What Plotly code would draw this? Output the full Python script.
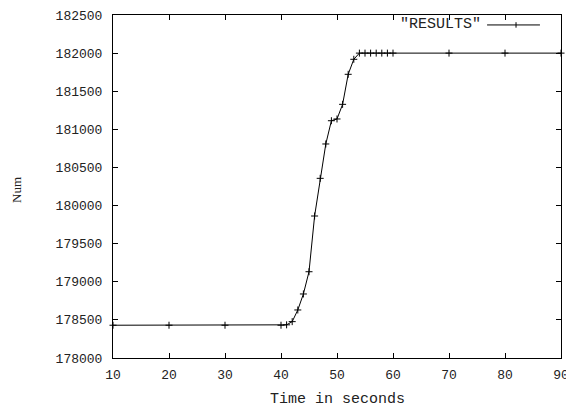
import plotly.graph_objects as go

# Data
time_s = [10, 20, 30, 40, 41, 42, 43, 44, 45, 46, 47, 48, 49, 50, 51, 52, 53,
          54, 55, 56, 57, 58, 59, 60, 70, 80, 90]
num = [178430, 178430, 178430, 178430, 178435, 178477, 178630, 178840, 179132,
       179863, 180357, 180808, 181113, 181136, 181328, 181722, 181919,
       182000, 182000, 182000, 182000, 182000, 182000, 182000, 182000, 182000, 182000]
series_name = '"RESULTS"'
x_ticks = [10, 20, 30, 40, 50, 60, 70, 80, 90]
y_ticks = [178000, 178500, 179000, 179500, 180000, 180500, 181000, 181500, 182000, 182500]

mono = "Liberation Mono"

fig = go.Figure()
fig.add_trace(go.Scatter(
    x=time_s, y=num, mode="lines+markers", name=series_name,
    line=dict(color="black", width=1),
    marker=dict(symbol="cross-thin-open", size=5, color="black",
                line=dict(color="black", width=1)),
    showlegend=False, cliponaxis=False,
))

axis_common = dict(
    showline=True, linecolor="black", linewidth=1, mirror="ticks",
    ticks="inside", ticklen=5, tickcolor="black", tickwidth=1,
    showgrid=False, zeroline=False, automargin=False,
    tickfont=dict(family=mono, size=13, color="#222"),
)

fig.update_xaxes(range=[10, 90], tickvals=x_ticks, ticktext=[str(v) for v in x_ticks],
                 ticklabelstandoff=4, **axis_common)
fig.update_yaxes(range=[178000, 182500], tickvals=y_ticks, ticktext=[str(v) for v in y_ticks],
                 ticklabelstandoff=7, **axis_common)

# axis titles
fig.add_annotation(xref="paper", yref="paper", x=0.5, y=-0.1224, text="Time in seconds",
                   showarrow=False, xanchor="center", yanchor="middle",
                   font=dict(family=mono, size=15, color="#222"))
fig.add_annotation(xref="paper", yref="paper", x=-0.2143, y=0.4898, text="Num",
                   showarrow=False, xanchor="center", yanchor="middle", textangle=-90,
                   font=dict(family="Liberation Serif", size=13, color="#222"))

# gnuplot-style key: text left, sample line with marker on the right
kx0, kx1, kxm, ky = 0.835, 0.953, 0.8996, 0.971
fig.add_shape(type="line", xref="paper", yref="paper", x0=kx0, x1=kx1, y0=ky, y1=ky,
              line=dict(color="black", width=1))
fig.add_shape(type="line", xref="paper", yref="paper", x0=kxm, x1=kxm,
              y0=ky - 0.008, y1=ky + 0.008, line=dict(color="black", width=1))
fig.add_annotation(xref="paper", yref="paper", x=0.826, y=ky, text=series_name,
                   showarrow=False, xanchor="right", yanchor="middle",
                   font=dict(family=mono, size=15, color="#222"))

# The page body adds an 8px offset, so the figure is sized to fill the rest
fig.update_layout(
    width=566, height=404,
    margin=dict(l=105, r=13, t=7, b=54),
    paper_bgcolor="white", plot_bgcolor="white",
)

fig.write_html("out.html")
